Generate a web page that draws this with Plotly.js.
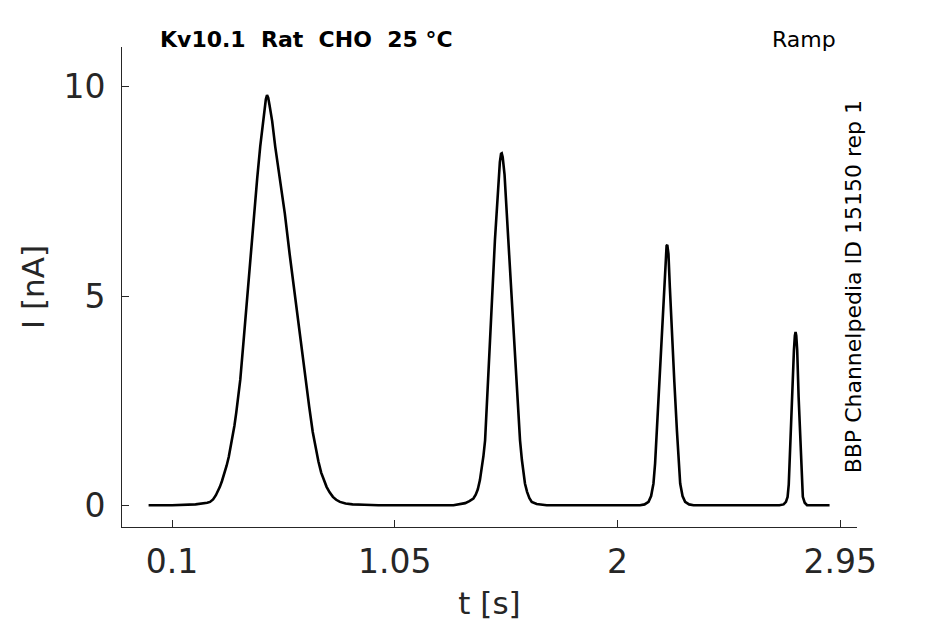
<!DOCTYPE html>
<html>
<head>
<meta charset="utf-8">
<script src="https://cdn.plot.ly/plotly-3.0.1.min.js"></script>
<style>
  html, body { margin: 0; padding: 0; background: #fff; }
  #chart { width: 945px; height: 624px; }
</style>
</head>
<body>
<div id="chart"></div>
<script>
// current trace: time [s] and current [nA]
var timeS = [
  0.000, 0.100, 0.200, 0.230, 0.250, 0.262, 0.275, 0.287, 0.296, 0.304, 0.313,
  0.323, 0.333, 0.342, 0.350, 0.358, 0.366, 0.374, 0.382, 0.391, 0.405, 0.420,
  0.435, 0.450, 0.463, 0.476, 0.486, 0.494, 0.500, 0.505, 0.510, 0.516, 0.527,
  0.540, 0.560, 0.581, 0.602, 0.624, 0.646, 0.669, 0.685, 0.700, 0.712, 0.724,
  0.736, 0.748, 0.759, 0.772, 0.786, 0.800, 0.816, 0.840, 0.870, 0.920, 0.980,
  1.300, 1.328, 1.350, 1.368, 1.385, 1.395, 1.404, 1.413, 1.420, 1.428, 1.435,
  1.446, 1.456, 1.477, 1.490, 1.498, 1.503, 1.506, 1.510, 1.518, 1.534, 1.558,
  1.584, 1.592, 1.599, 1.605, 1.614, 1.624, 1.634, 1.655, 1.698,
  2.096, 2.115, 2.132, 2.143, 2.153, 2.160, 2.167, 2.178, 2.189, 2.198, 2.205,
  2.209, 2.212, 2.217, 2.223, 2.231, 2.242, 2.253, 2.260, 2.267, 2.277, 2.288,
  2.305, 2.324,
  2.690, 2.708, 2.718, 2.725, 2.730, 2.733, 2.744, 2.752, 2.756, 2.759, 2.762,
  2.766, 2.772, 2.782, 2.786, 2.790, 2.798, 2.808, 2.904
];
var currentNA = [
  0.00, 0.00, 0.02, 0.04, 0.06, 0.08, 0.14, 0.24, 0.34, 0.44, 0.58,
  0.74, 0.95, 1.16, 1.38, 1.62, 1.90, 2.22, 2.58, 3.00, 3.92, 4.98,
  5.98, 6.97, 7.80, 8.57, 9.10, 9.48, 9.70, 9.80, 9.74, 9.55, 9.18,
  8.57, 7.78, 6.97, 5.98, 4.98, 3.98, 3.00, 2.35, 1.75, 1.39, 1.05,
  0.78, 0.58, 0.44, 0.31, 0.20, 0.13, 0.08, 0.04, 0.02, 0.01, 0.00,
  0.00, 0.02, 0.05, 0.10, 0.16, 0.25, 0.38, 0.60, 0.85, 1.18, 1.55,
  2.70, 3.94, 6.34, 7.60, 8.20, 8.40, 8.41, 8.32, 7.90, 6.34, 3.94,
  1.55, 1.08, 0.76, 0.52, 0.32, 0.17, 0.08, 0.03, 0.00,
  0.00, 0.02, 0.08, 0.22, 0.52, 1.00, 1.79, 3.00, 4.18, 5.30, 5.95,
  6.20, 6.22, 6.00, 5.20, 4.18, 2.95, 1.79, 1.00, 0.52, 0.22, 0.08,
  0.02, 0.00,
  0.00, 0.02, 0.08, 0.20, 0.50, 1.00, 2.59, 3.70, 4.05, 4.14, 4.05,
  3.70, 2.59, 1.00, 0.50, 0.20, 0.06, 0.00, 0.00
];

var xTickVals = [0.1, 1.05, 2, 2.95];
var xTickText = ['0.1', '1.05', '2', '2.95'];
var yTickVals = [0, 5, 10];

var titleText = '<b>Kv10.1  Rat  CHO  25 °C</b>';
var protocolText = 'Ramp';
var sourceText = 'BBP Channelpedia ID 15150 rep 1';

var ink = '#262626';
var font = 'DejaVu Sans, sans-serif';

var data = [{
  x: timeS,
  y: currentNA,
  type: 'scatter',
  mode: 'lines',
  line: { color: '#000000', width: 2.6 },
  hoverinfo: 'skip'
}];

var layout = {
  width: 945,
  height: 624,
  margin: { l: 122, r: 88, t: 47, b: 97 },
  paper_bgcolor: '#ffffff',
  plot_bgcolor: '#ffffff',
  showlegend: false,
  font: { family: font, color: ink },
  xaxis: {
    range: [-0.1134, 3.021],
    tickvals: xTickVals,
    ticktext: xTickText,
    ticks: 'inside',
    ticklen: 7,
    tickwidth: 1,
    tickcolor: ink,
    tickfont: { size: 33, color: ink, family: font },
    ticklabelstandoff: 5,
    showline: true,
    linecolor: ink,
    linewidth: 1,
    showgrid: false,
    zeroline: false,
    title: { text: 't [s]', font: { size: 31, color: ink, family: font }, standoff: 12 }
  },
  yaxis: {
    range: [-0.52, 10.95],
    tickvals: yTickVals,
    ticks: 'inside',
    ticklen: 7,
    tickwidth: 1,
    tickcolor: ink,
    tickfont: { size: 33, color: ink, family: font },
    ticklabelstandoff: 9,
    showline: true,
    linecolor: ink,
    linewidth: 1,
    showgrid: false,
    zeroline: false,
    title: { text: 'I [nA]', font: { size: 31, color: ink, family: font }, standoff: 9 }
  },
  annotations: [
    {
      text: titleText, xref: 'paper', yref: 'paper', x: 0.0486, y: 1.0146,
      xanchor: 'left', yanchor: 'middle', showarrow: false,
      font: { size: 22, color: '#000000', family: font }
    },
    {
      text: protocolText, xref: 'paper', yref: 'paper', x: 0.9745, y: 1.0146,
      xanchor: 'right', yanchor: 'middle', showarrow: false,
      font: { size: 22, color: '#000000', family: font }
    },
    {
      text: sourceText, xref: 'paper', yref: 'paper', x: 0.9946, y: 0.4994,
      xanchor: 'center', yanchor: 'middle', textangle: -90, showarrow: false,
      font: { size: 22, color: '#000000', family: font }
    }
  ]
};

Plotly.newPlot('chart', data, layout, { displayModeBar: false, staticPlot: true });
</script>
</body>
</html>
